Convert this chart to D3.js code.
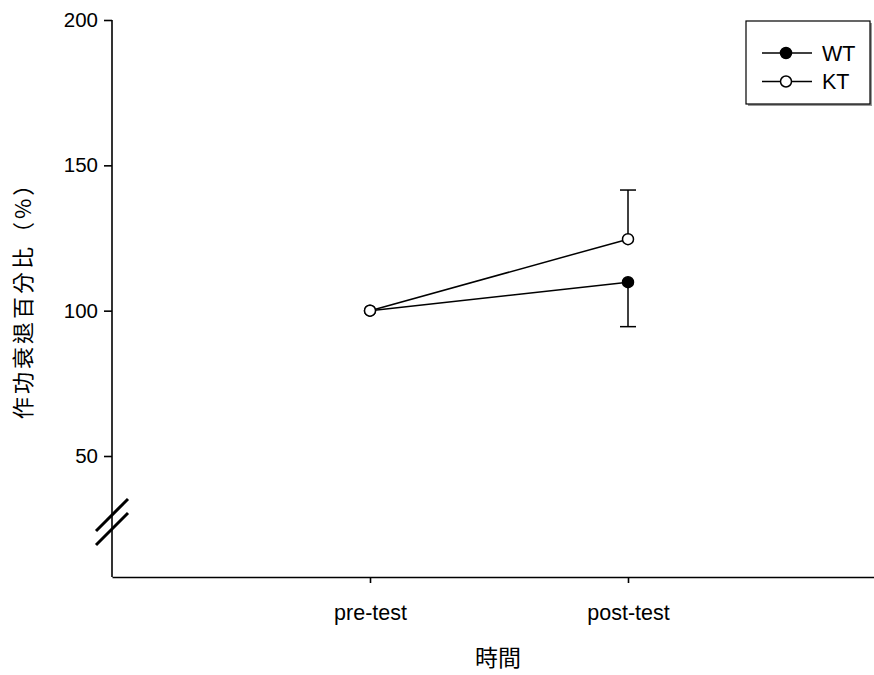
<!DOCTYPE html>
<html>
<head>
<meta charset="utf-8">
<script src="https://cdn.jsdelivr.net/npm/d3@7"></script>
<style>
  html, body { margin: 0; padding: 0; background: #fff; }
  svg { display: block; }
</style>
</head>
<body>
<svg id="chart" width="874" height="675"></svg>
<script>
// Test occasions on the x axis
const occasions = ["pre-test", "post-test"];
// Group names shown in the legend
const groups = ["WT", "KT"];
// Mean work-decrement percentage per group at each occasion
const wtMeans = [100, 109.8];
const ktMeans = [100, 124.6];
// One-sided standard errors (WT drawn downward, KT drawn upward)
const wtErrors = [0, 15.3];
const ktErrors = [0, 16.9];
// Y axis tick values
const yTicks = [50, 100, 150, 200];

const svg = d3.select("#chart");
const latin = "'Liberation Sans', Arial, sans-serif";
const cjk = "'Noto Sans CJK TC', 'Noto Sans CJK SC', sans-serif";

const x = d3.scaleLinear().domain([0, 3]).range([112, 886]);
const y = d3.scaleLinear().domain([50, 200]).range([456, 20]);
const axisBottomY = 577;

// X axis (categories placed at positions 1 and 2)
const xAxis = d3.axisBottom(x)
  .tickValues([1, 2])
  .tickFormat((d) => occasions[d - 1])
  .tickSizeInner(6)
  .tickSizeOuter(0)
  .tickPadding(22);
const gx = svg.append("g")
  .attr("transform", `translate(0,${axisBottomY})`)
  .call(xAxis);
gx.select(".domain").attr("stroke", "#000").attr("stroke-width", 1.6);
gx.selectAll(".tick line").attr("stroke", "#000").attr("stroke-width", 1.6);
gx.selectAll(".tick text").attr("font-size", 21.5).attr("fill", "#000").attr("font-family", latin);

// Y axis with ticks; the line continues below through the break
const yAxis = d3.axisLeft(y)
  .tickValues(yTicks)
  .tickSizeInner(8)
  .tickSizeOuter(0)
  .tickPadding(6);
const gy = svg.append("g")
  .attr("transform", `translate(${x(0)},0)`)
  .call(yAxis);
gy.select(".domain").remove();
gy.selectAll(".tick line").attr("stroke", "#000").attr("stroke-width", 1.6);
gy.selectAll(".tick text").attr("font-size", 20.5).attr("fill", "#000").attr("font-family", latin);

svg.append("line")
  .attr("x1", x(0)).attr("x2", x(0))
  .attr("y1", y(200)).attr("y2", axisBottomY)
  .attr("stroke", "#000").attr("stroke-width", 1.6);

// Axis break marks
[0, 14].forEach((off) => {
  svg.append("line")
    .attr("x1", x(0) - 16).attr("y1", 531 + off)
    .attr("x2", x(0) + 16).attr("y2", 499 + off)
    .attr("stroke", "#000").attr("stroke-width", 3);
});

// Axis titles
svg.append("text")
  .attr("transform", "translate(23,295) rotate(-90)")
  .attr("dy", "0.38em")
  .attr("text-anchor", "middle")
  .attr("font-family", cjk)
  .attr("font-size", 22)
  .attr("letter-spacing", 3)
  .attr("fill", "#000")
  .text("作功衰退百分比（%）");

svg.append("text")
  .attr("x", 498).attr("y", 666)
  .attr("text-anchor", "middle")
  .attr("font-family", cjk)
  .attr("font-size", 23)
  .attr("fill", "#000")
  .text("時間");

const series = [
  { name: groups[0], means: wtMeans, errors: wtErrors, dir: -1, fill: "#000" },
  { name: groups[1], means: ktMeans, errors: ktErrors, dir: 1, fill: "#fff" }
];

const line = d3.line().x((d, i) => x(i + 1)).y((d) => y(d));

// Connecting lines
series.forEach((s) => {
  svg.append("path")
    .datum(s.means)
    .attr("d", line)
    .attr("fill", "none")
    .attr("stroke", "#000")
    .attr("stroke-width", 1.5);
});

// Error bars (one-sided)
series.forEach((s) => {
  s.means.forEach((m, i) => {
    if (!s.errors[i]) return;
    const cx = x(i + 1);
    const end = y(m + s.dir * s.errors[i]);
    svg.append("line")
      .attr("x1", cx).attr("x2", cx)
      .attr("y1", y(m)).attr("y2", end)
      .attr("stroke", "#000").attr("stroke-width", 1.5);
    svg.append("line")
      .attr("x1", cx - 8).attr("x2", cx + 8)
      .attr("y1", end).attr("y2", end)
      .attr("stroke", "#000").attr("stroke-width", 1.5);
  });
});

// Markers
series.forEach((s) => {
  svg.selectAll(null)
    .data(s.means)
    .enter()
    .append("circle")
    .attr("cx", (d, i) => x(i + 1))
    .attr("cy", (d) => y(d))
    .attr("r", 5.5)
    .attr("fill", s.fill)
    .attr("stroke", "#000")
    .attr("stroke-width", 1.5);
});

// Legend box with a light drop shadow
const legend = svg.append("g");
legend.append("rect")
  .attr("x", 748).attr("y", 23).attr("width", 124).attr("height", 83)
  .attr("fill", "#999");
legend.append("rect")
  .attr("x", 746).attr("y", 21).attr("width", 124).attr("height", 83)
  .attr("fill", "#fff").attr("stroke", "#000").attr("stroke-width", 1.2);

series.forEach((s, i) => {
  const ly = 53 + i * 28.5;
  legend.append("line")
    .attr("x1", 762).attr("x2", 812)
    .attr("y1", ly).attr("y2", ly)
    .attr("stroke", "#000").attr("stroke-width", 1.5);
  legend.append("circle")
    .attr("cx", 786).attr("cy", ly).attr("r", 5.5)
    .attr("fill", s.fill).attr("stroke", "#000").attr("stroke-width", 1.5);
  legend.append("text")
    .attr("x", 822).attr("y", ly + 7.5)
    .attr("font-family", latin)
    .attr("font-size", 21.5)
    .attr("fill", "#000")
    .text(s.name);
});
</script>
</body>
</html>
